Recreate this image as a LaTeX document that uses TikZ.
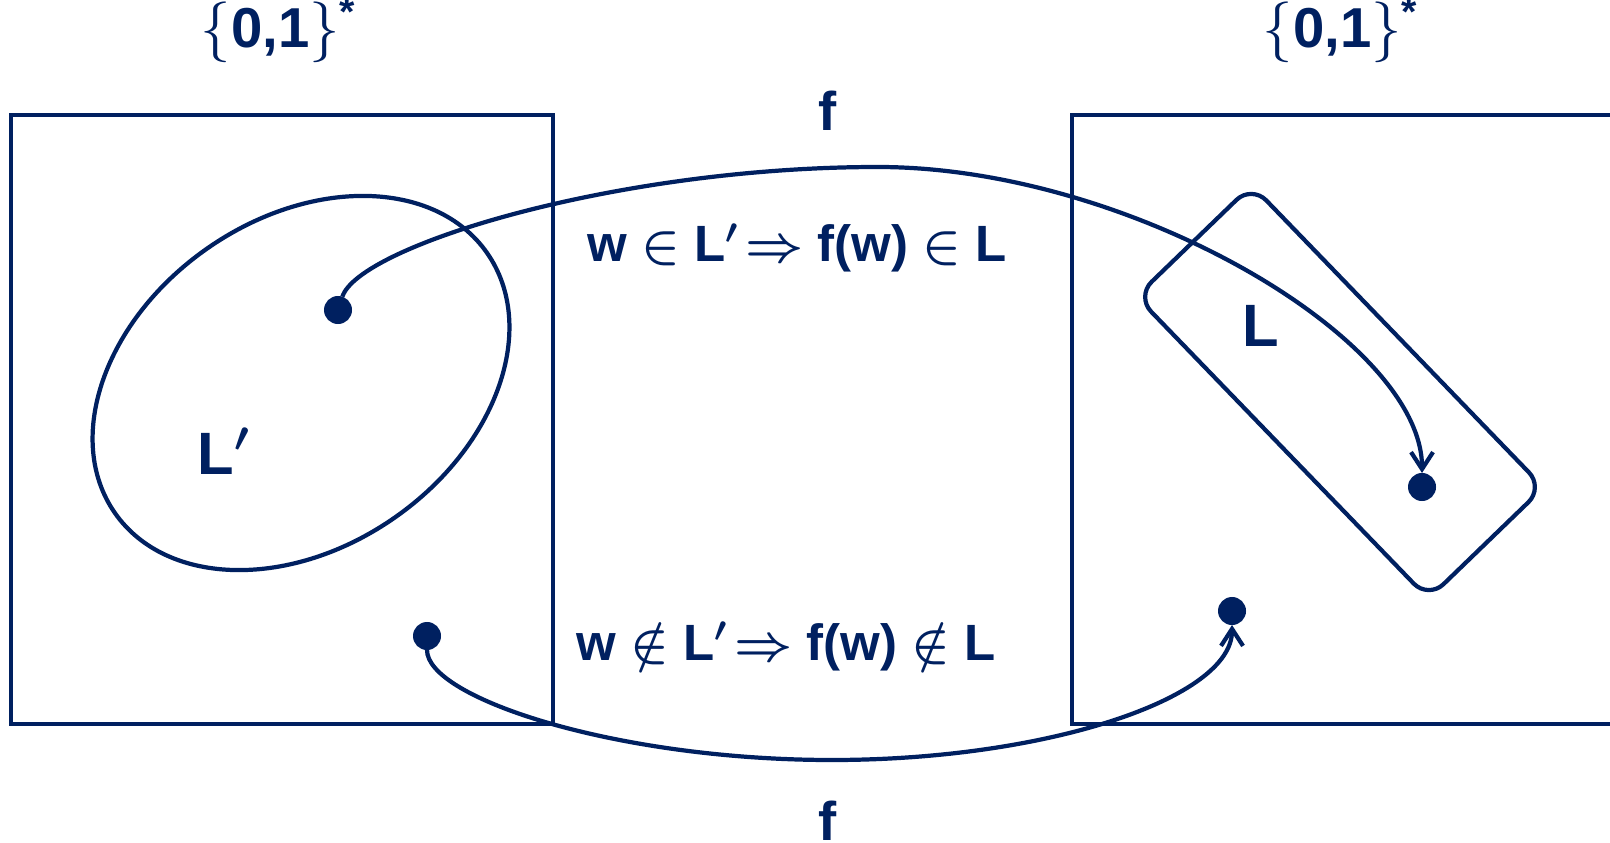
\documentclass[tikz,border=0pt]{standalone}
\usepackage{fontspec}
\setmainfont{Liberation Sans}
\usetikzlibrary{arrows.meta}
\definecolor{mapNavy}{HTML}{002060}

\begin{document}
\begin{tikzpicture}[
  x=0.01cm, y=0.01cm,
  universe/.style={draw=mapNavy, line width=1.2pt},
  word/.style={circle, fill=mapNavy, inner sep=0pt, outer sep=0pt, minimum size=0.28cm},
  mapping/.style={-{Straight Barb[length=0.17cm, width=0.22cm]}, draw=mapNavy, line width=1.2pt},
  lbl/.style={text=mapNavy, anchor=base, inner sep=0pt, font=\bfseries\boldmath\fontsize{#1}{#1}\selectfont},
  lbl/.default=14.5,
]
\useasboundingbox (0,0) rectangle (1610,842);

% the two universes
\draw[universe] (11,118) rectangle (553,727);
\draw[universe] (1615,727) -- (1072,727) -- (1072,118) -- (1615,118);
\node[lbl=16] (starL) at (279,794) {{\unboldmath$\{$}0,1{\unboldmath$\}$}\textsuperscript{*}};
\node[lbl=16] (starR) at (1341,794) {{\unboldmath$\{$}0,1{\unboldmath$\}$}\textsuperscript{*}};

% the languages
\draw[universe, rotate around={35:(301,459)}] (301,459) ellipse [x radius=227, y radius=164];
\node[universe, rectangle, rounded corners=0.21cm, minimum width=4.2cm, minimum height=1.6cm,
  rotate=-46] (Lset) at (1340,450) {};
\node[lbl=17] (Lp) at (224,368) {L$'$};
\node[lbl=17] (Lname) at (1261,495) {L};

% the words
\node[word] (w1) at (338,532) {};
\node[word] (w2) at (427,206) {};
\node[word] (fw1) at (1422,355) {};
\node[word] (fw2) at (1232,231) {};

% the reduction f
\coordinate (topmid) at (878,675);
\coordinate (botmid) at (832,82);
\draw[mapping] (w1) .. controls (359,596) and (616,675) .. (topmid)
  .. controls (1129,675) and (1422,503) .. (fw1);
\draw[mapping] (w2) .. controls (427,144) and (616,82) .. (botmid)
  .. controls (1047,82) and (1232,144) .. (fw2);
\node[lbl=15.5] (ftop) at (828,711) {f};
\node[lbl=15.5] (fbot) at (828,2) {f};

\node[lbl] (yes) at (797,580) {w $\in$ L$'\!\Rightarrow$ f(w) $\in$ L};
\node[lbl] (no) at (786,182) {w $\notin$ L$'\!\Rightarrow$ f(w) $\notin$ L};
\end{tikzpicture}
\end{document}
